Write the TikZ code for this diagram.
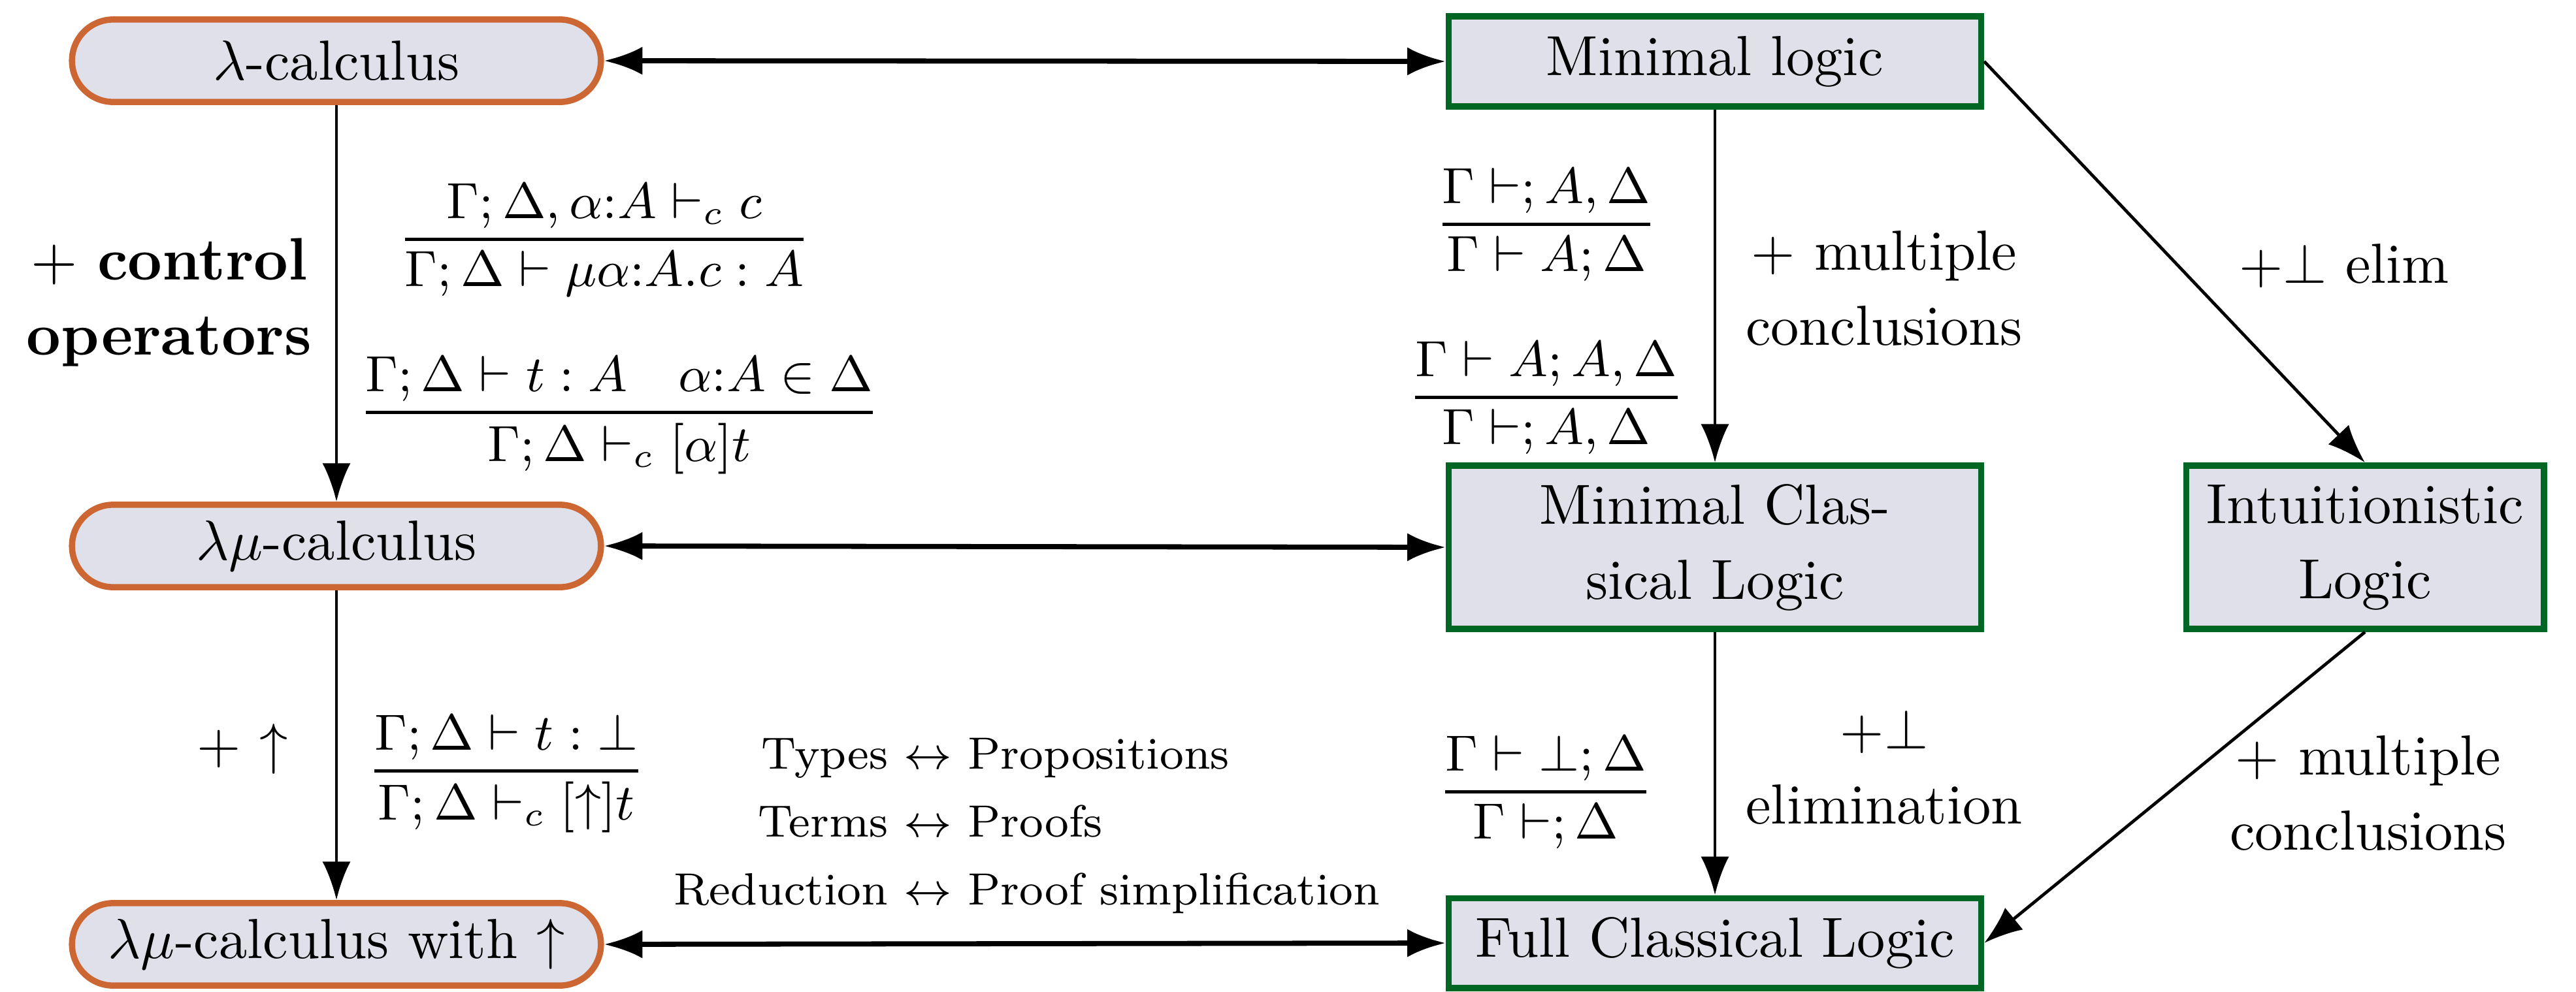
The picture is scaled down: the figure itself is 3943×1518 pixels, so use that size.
\documentclass[tikz,border=0pt]{standalone}
\usepackage{amsmath}
\usetikzlibrary{arrows.meta,shapes.misc}
\definecolor{calcorange}{RGB}{204,102,51}
\definecolor{logicgreen}{RGB}{0,102,36}
\definecolor{boxfill}{RGB}{224,224,234}
\newcommand{\rulefrac}[2]{\genfrac{}{}{0.55pt}{0}{#1}{#2}}
\begin{document}
\begin{tikzpicture}[x=0.11561pt,y=-0.11561pt,
  calcnode/.style={rounded rectangle, draw=calcorange, fill=boxfill, line width=1.1pt,
    minimum width=93.6pt, minimum height=14.6pt, inner sep=0pt, font=\fontsize{10}{13.3}\selectfont},
  logicnode/.style={rectangle, draw=logicgreen, fill=boxfill, line width=1.1pt,
    inner sep=0pt, align=center, font=\fontsize{10}{13.3}\selectfont},
  lbl/.style={inner sep=0pt, align=center, font=\fontsize{10}{13.3}\selectfont},
  rulelbl/.style={inner sep=0pt, anchor=base, font=\fontsize{9}{11}\selectfont},
  corrlbl/.style={inner sep=0pt, anchor=west, font=\fontsize{8}{12}\selectfont},
  biarrow/.style={{Latex[length=6.8pt,width=5pt]}-{Latex[length=6.8pt,width=5pt]}, line width=0.9pt},
  onearrow/.style={-{Latex[length=6.8pt,width=5pt]}, line width=0.55pt}]

\path[fill=white, use as bounding box] (0,0) rectangle (3943,1518);

% calculi
\node[calcnode] (lam)  at (515,93)   {$\lambda$-calculus};
\node[calcnode] (lmu)  at (515,836)  {$\lambda\mu$-calculus};
\node[calcnode] (lmuu) at (515,1446) {$\lambda\mu$-calculus with $\uparrow$};

% logics
\node[logicnode, minimum width=94.2pt, minimum height=15.9pt] (ml)   at (2625,94)   {Minimal logic};
\node[logicnode, minimum width=94.2pt, minimum height=28.9pt] (mcl)  at (2625,838)  {Minimal Clas-\\sical Logic};
\node[logicnode, minimum width=63.3pt, minimum height=28.9pt] (intu) at (3620,838)  {Intuitionistic\\Logic};
\node[logicnode, minimum width=94.2pt, minimum height=15.9pt] (fcl)  at (2625,1444) {Full Classical Logic};

% connectors
\draw[biarrow] (lam.east) -- (ml.west);
\draw[biarrow] (lmu.east) -- (mcl.west);
\draw[biarrow] (lmuu.east) -- (fcl.west);
\draw[onearrow] (lam.south) -- (lmu.north);
\draw[onearrow] (lmu.south) -- (lmuu.north);
\draw[onearrow] (ml.south) -- (mcl.north);
\draw[onearrow] (mcl.south) -- (fcl.north);
\draw[onearrow] (ml.east) -- (intu.north);
\draw[onearrow] (intu.south) -- (fcl.east);

% labels left column
\node[lbl, font=\fontsize{10.6}{13.3}\selectfont] (ctrl) at (259,463) {+ \textbf{control}\\\textbf{operators}};
\node[rulelbl] (r1) at (925,386) {$\rulefrac{\Gamma;\Delta,\alpha{:}A\vdash_c c}{\Gamma;\Delta\vdash\mu\alpha{:}A.c:A}$};
\node[rulelbl] (r2) at (948,651) {$\rulefrac{\Gamma;\Delta\vdash t:A\quad\alpha{:}A\in\Delta}{\Gamma;\Delta\vdash_c[\alpha]t}$};
\node[lbl, anchor=base] (up) at (371,1168) {+ $\uparrow$};
\node[rulelbl] (r3) at (775,1200) {$\rulefrac{\Gamma;\Delta\vdash t:\bot}{\Gamma;\Delta\vdash_c[\uparrow]t}$};

% correspondence
\node[corrlbl] (corr) at (1030,1261) {\begin{tabular}{@{}r@{~$\leftrightarrow$~}l@{}}
Types & Propositions\\
Terms & Proofs\\
Reduction & Proof simplification
\end{tabular}};

% labels logic column
\node[rulelbl] (r4) at (2367,363) {$\rulefrac{\Gamma\vdash;A,\Delta}{\Gamma\vdash A;\Delta}$};
\node[rulelbl] (r5) at (2367,628) {$\rulefrac{\Gamma\vdash A;A,\Delta}{\Gamma\vdash;A,\Delta}$};
\node[lbl] (mult1) at (2884,441) {+ multiple\\conclusions};
\node[lbl, anchor=base] (elim1) at (3588,433) {$+\bot$ elim};
\node[rulelbl] (r6) at (2366,1232) {$\rulefrac{\Gamma\vdash\bot;\Delta}{\Gamma\vdash;\Delta}$};
\node[lbl] (elim2) at (2884,1174) {$+\bot$\\elimination};
\node[lbl] (mult2) at (3625,1214) {+ multiple\\conclusions};
\end{tikzpicture}
\end{document}
